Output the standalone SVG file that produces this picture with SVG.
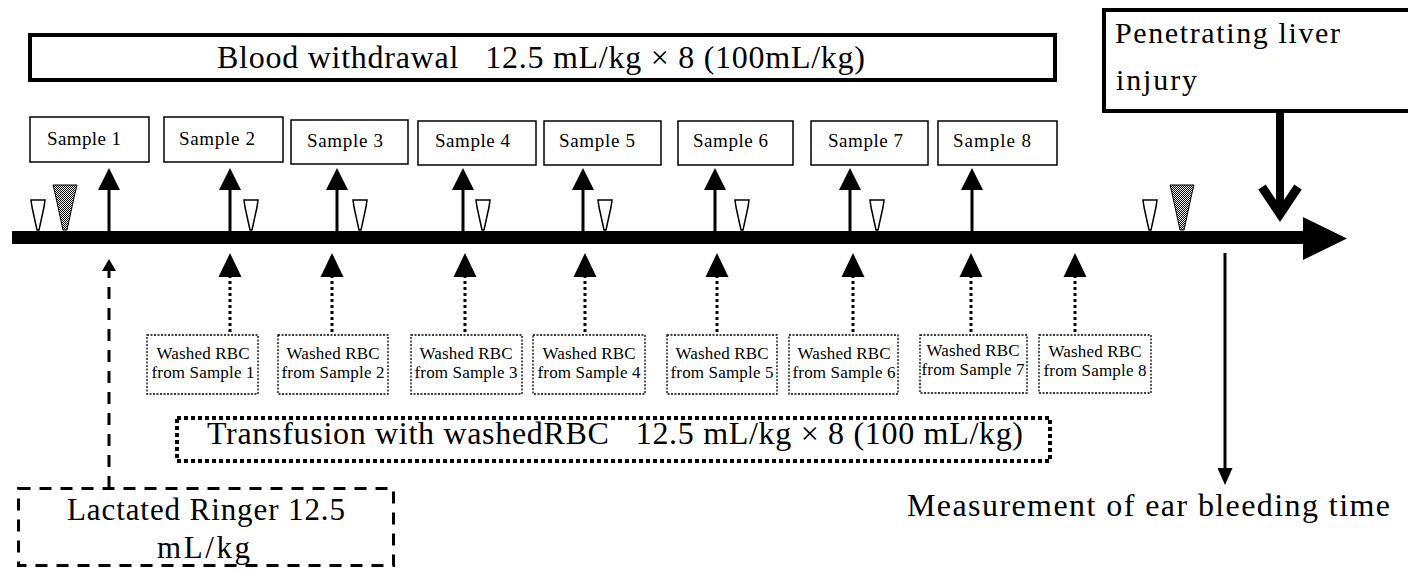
<svg xmlns="http://www.w3.org/2000/svg" width="1408" height="572" viewBox="0 0 1408 572">
<style>
text{font-family:"Liberation Serif","Times New Roman",serif;fill:#000;white-space:pre}
.big{stroke:#000;stroke-width:4;fill:#fff}
.smp{stroke:#000;stroke-width:1.5;fill:#fff}
.wbox{stroke:#000;stroke-width:1.3;stroke-dasharray:2 1.5;fill:#fff}
.st{font-size:19px}
.wt{font-size:17px;text-anchor:middle}
.solid{stroke:#000;stroke-width:3;fill:none}
.dot{stroke:#000;stroke-width:3;stroke-dasharray:3 3;fill:none}
.dash{stroke:#000;stroke-width:3;stroke-dasharray:12 9;fill:none}
.open{fill:#fff;stroke:#000;stroke-width:1.5}
.shade{fill:url(#dither);stroke:#000;stroke-width:1}
</style>
<defs>
<pattern id="dither" width="2" height="2" patternUnits="userSpaceOnUse">
<rect width="2" height="2" fill="#fff"/>
<rect width="1" height="1" fill="#000"/>
<rect x="1" y="1" width="1" height="1" fill="#000"/>
</pattern>
<marker id="hUp" markerUnits="userSpaceOnUse" markerWidth="22" markerHeight="22" viewBox="0 0 22 22" refX="10" refY="11" orient="auto">
<path d="M0,0 L22,11 L0,22 Z" fill="#000"/>
</marker>
<marker id="hLow" markerUnits="userSpaceOnUse" markerWidth="24" markerHeight="24" viewBox="0 0 24 24" refX="12" refY="12" orient="auto">
<path d="M0,0.5 L24,12 L0,23.5 Z" fill="#000"/>
</marker>
<marker id="hSmall" markerUnits="userSpaceOnUse" markerWidth="12" markerHeight="14" viewBox="0 0 12 14" refX="8" refY="7" orient="auto">
<path d="M0,0 L12,7 L0,14 Z" fill="#000"/>
</marker>
<marker id="hMeas" markerUnits="userSpaceOnUse" markerWidth="17" markerHeight="15" viewBox="0 0 17 15" refX="10" refY="7.5" orient="auto">
<path d="M0,0 L17,7.5 L0,15 Z" fill="#000"/>
</marker>
<path id="tri" d="M-7,-31 H7 L6,-24 L1,-1 H-1 L-6,-24 Z"/>
<path id="tri2" d="M-12,-46 H12 L10,-38 L2,-1 H-2 L-10,-38 Z"/>
</defs>
<rect width="1408" height="572" fill="#fff"/>

<g id="blood-withdrawal">
<rect class="big" x="30" y="35" width="1025" height="45"/>
<text x="217" y="68" font-size="32" textLength="648" lengthAdjust="spacing" xml:space="preserve">Blood withdrawal   12.5 mL/kg × 8 (100mL/kg)</text>
</g>

<g id="penetrating-liver-injury">
<rect class="big" x="1104" y="10" width="320" height="101"/>
<text x="1115" y="43" font-size="30" textLength="225" lengthAdjust="spacing">Penetrating liver</text>
<text x="1116" y="90" font-size="30" textLength="81" lengthAdjust="spacing">injury</text>
</g>

<g id="sample1"><rect class="smp" x="30" y="117" width="119" height="45"/><text class="st" x="47" y="145" textLength="74">Sample 1</text></g>
<g id="sample2"><rect class="smp" x="164" y="117" width="119" height="45"/><text class="st" x="179" y="145" textLength="76">Sample 2</text></g>
<g id="sample3"><rect class="smp" x="291" y="120" width="117" height="44"/><text class="st" x="307" y="147" textLength="76">Sample 3</text></g>
<g id="sample4"><rect class="smp" x="418" y="121" width="118" height="44"/><text class="st" x="435" y="147" textLength="75">Sample 4</text></g>
<g id="sample5"><rect class="smp" x="544" y="121" width="117" height="44"/><text class="st" x="559" y="147" textLength="76">Sample 5</text></g>
<g id="sample6"><rect class="smp" x="678" y="121" width="115" height="44"/><text class="st" x="693" y="147" textLength="75">Sample 6</text></g>
<g id="sample7"><rect class="smp" x="811" y="121" width="117" height="44"/><text class="st" x="828" y="147" textLength="75">Sample 7</text></g>
<g id="sample8"><rect class="smp" x="938" y="121" width="119" height="44"/><text class="st" x="953" y="147" textLength="78">Sample 8</text></g>

<g id="washed1"><rect class="wbox" x="147" y="335" width="111" height="59"/><text class="wt" x="203" y="359" textLength="93">Washed RBC</text><text class="wt" x="203" y="378" textLength="103">from Sample 1</text></g>
<g id="washed2"><rect class="wbox" x="278" y="335" width="110" height="59"/><text class="wt" x="333" y="359" textLength="93">Washed RBC</text><text class="wt" x="333" y="378" textLength="103">from Sample 2</text></g>
<g id="washed3"><rect class="wbox" x="411" y="335" width="111" height="59"/><text class="wt" x="466" y="359" textLength="93">Washed RBC</text><text class="wt" x="466" y="378" textLength="103">from Sample 3</text></g>
<g id="washed4"><rect class="wbox" x="533" y="335" width="112" height="59"/><text class="wt" x="589" y="359" textLength="93">Washed RBC</text><text class="wt" x="589" y="378" textLength="103">from Sample 4</text></g>
<g id="washed5"><rect class="wbox" x="667" y="335" width="110" height="59"/><text class="wt" x="722" y="359" textLength="93">Washed RBC</text><text class="wt" x="722" y="378" textLength="103">from Sample 5</text></g>
<g id="washed6"><rect class="wbox" x="789" y="335" width="109" height="59"/><text class="wt" x="844" y="359" textLength="93">Washed RBC</text><text class="wt" x="844" y="378" textLength="103">from Sample 6</text></g>
<g id="washed7"><rect class="wbox" x="920" y="335" width="107" height="58"/><text class="wt" x="973" y="356" textLength="93">Washed RBC</text><text class="wt" x="973" y="375" textLength="103">from Sample 7</text></g>
<g id="washed8"><rect class="wbox" x="1039" y="335" width="112" height="58"/><text class="wt" x="1095" y="357" textLength="93">Washed RBC</text><text class="wt" x="1095" y="376" textLength="103">from Sample 8</text></g>

<g id="transfusion">
<rect x="177" y="418" width="873" height="43" fill="#fff" stroke="#000" stroke-width="4" stroke-dasharray="4 3"/>
<text x="207" y="444" font-size="32" textLength="816" lengthAdjust="spacing" xml:space="preserve">Transfusion with washedRBC   12.5 mL/kg × 8 (100 mL/kg)</text>
</g>

<g id="lactated-ringer">
<rect x="18.5" y="488.5" width="375" height="77" fill="#fff" stroke="#000" stroke-width="3" stroke-dasharray="12 9"/>
<text x="67" y="520" font-size="31" textLength="278" lengthAdjust="spacing">Lactated Ringer 12.5</text>
<text x="157" y="558" font-size="31" textLength="93" lengthAdjust="spacing">mL/kg</text>
</g>

<g id="measurement">
<text x="907" y="516" font-size="32" textLength="483" lengthAdjust="spacing">Measurement of ear bleeding time</text>
</g>

<g id="connectors">
<path d="M12,231 H1303 V217 L1347,238.5 L1303,260 V244 H12 Z" fill="#000"/>
<path d="M1280,113 V212" stroke="#000" stroke-width="8" fill="none"/>
<path d="M1262,187 L1280,214 L1298,187" stroke="#000" stroke-width="9" fill="none" stroke-linejoin="miter"/>
<g class="solid" marker-end="url(#hUp)">
<line x1="109" y1="231" x2="109" y2="180"/>
<line x1="230" y1="231" x2="230" y2="180"/>
<line x1="337" y1="231" x2="337" y2="180"/>
<line x1="463" y1="231" x2="463" y2="180"/>
<line x1="583" y1="231" x2="583" y2="180"/>
<line x1="715" y1="231" x2="715" y2="180"/>
<line x1="850" y1="231" x2="850" y2="180"/>
<line x1="972" y1="231" x2="972" y2="180"/>
</g>
<g class="dot" marker-end="url(#hLow)">
<line x1="230" y1="332" x2="230" y2="265"/>
<line x1="332" y1="332" x2="332" y2="265"/>
<line x1="465" y1="332" x2="465" y2="265"/>
<line x1="585" y1="332" x2="585" y2="265"/>
<line x1="717" y1="332" x2="717" y2="265"/>
<line x1="853" y1="332" x2="853" y2="265"/>
<line x1="971" y1="332" x2="971" y2="265"/>
<line x1="1075" y1="332" x2="1075" y2="265"/>
</g>
<line class="dash" x1="109" y1="488" x2="109" y2="263" marker-end="url(#hSmall)"/>
<line x1="1225" y1="253" x2="1225" y2="478" stroke="#000" stroke-width="3" marker-end="url(#hMeas)"/>
</g>

<g id="markers">
<use href="#tri" class="open" transform="translate(38,231)"/>
<use href="#tri2" class="shade" transform="translate(65,231)"/>
<use href="#tri" class="open" transform="translate(251,231)"/>
<use href="#tri" class="open" transform="translate(360,231)"/>
<use href="#tri" class="open" transform="translate(483,231)"/>
<use href="#tri" class="open" transform="translate(605,231)"/>
<use href="#tri" class="open" transform="translate(742,231)"/>
<use href="#tri" class="open" transform="translate(877,231)"/>
<use href="#tri" class="open" transform="translate(1150,231)"/>
<use href="#tri2" class="shade" transform="translate(1182,231)"/>
</g>
</svg>
